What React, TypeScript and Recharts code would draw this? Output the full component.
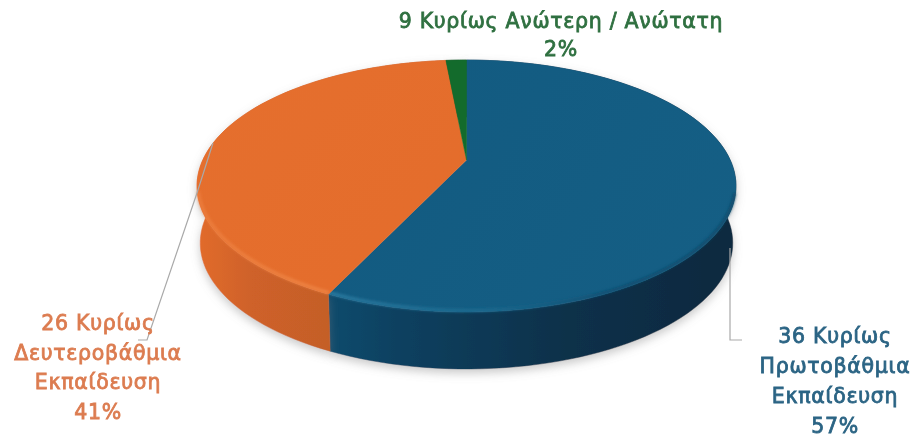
import React from 'react';
import { PieChart, Pie } from 'recharts';

const categories = ['Πρωτοβάθμια', 'Δευτεροβάθμια', 'Ανώτερη / Ανώτατη'];
const shares = [57, 41.5, 1.5];
const labelLines = [
  ['36 Κυρίως', 'Πρωτοβάθμια', 'Εκπαίδευση', '57%'],
  ['26 Κυρίως', 'Δευτεροβάθμια', 'Εκπαίδευση', '41%'],
  ['9 Κυρίως Ανώτερη / Ανώτατη', '2%'],
];
const data = categories.map((name, i) => ({ name, value: shares[i] }));

const topFills = ['url(#topBlue)', 'url(#topOrange)', '#136b2c'];
const sideFills = ['url(#sideBlue)', 'url(#sideOrange)', '#0d4a20'];
const bevelStrokes = ['url(#bevelBlue)', 'url(#bevelOrange)', 'none'];
const labelColors = ['#2b6484', '#dc7c50', '#2f7040'];
const labelAnchors = [
  { x: 835, y: 343, step: 30 },
  { x: 98, y: 330, step: 29.5 },
  { x: 561, y: 28, step: 28 },
];
const leaders = [
  '730,248 730,340 742,340',
  '213,143 197,193 147,340 138,340',
  '',
];

const TILT = 0.2063;
const NEAR = -120.6;
const DEPTH = 57;
const BOTTOM_SCALE = 0.988;

const project = (cx: number, cy: number, r: number, deg: number) => {
  const t = (deg * Math.PI) / 180;
  const u = Math.cos(t);
  const v = Math.sin(t);
  const w = 1 + TILT * v;
  return { x: cx + (r * u) / w, y: cy + (NEAR * v) / w, v };
};

const indexOf = (name: string) => categories.indexOf(name);

const arc = (cx: number, cy: number, r: number, a0: number, a1: number) => {
  const n = Math.max(2, Math.ceil(Math.abs(a1 - a0) / 2));
  const pts = [];
  for (let k = 0; k <= n; k++) pts.push(project(cx, cy, r, a0 + ((a1 - a0) * k) / n));
  return pts;
};

const TopShape = (p: any) => {
  const pts = arc(p.cx, p.cy, p.outerRadius, p.startAngle, p.endAngle);
  const i = indexOf(p.name ?? p.payload?.name);
  const d = `M${p.cx},${p.cy} ` + pts.map((q) => `L${q.x},${q.y}`).join(' ') + ' Z';
  const front = pts.filter((q) => q.v < -0.25);
  return (
    <g>
      <path d={d} fill={topFills[i]} stroke={topFills[i]} strokeWidth={0.5} />
      {front.length > 1 && (
        <polyline
          points={front.map((q) => `${p.cx + (q.x - p.cx) * 0.997},${q.y - 1.5}`).join(' ')}
          fill="none"
          stroke={bevelStrokes[i]}
          strokeWidth={2.5}
          filter="url(#soft)"
        />
      )}
    </g>
  );
};

const SideShape = (p: any) => {
  const pts = arc(p.cx, p.cy, p.outerRadius, p.startAngle, p.endAngle);
  const low = pts
    .map((q) => ({ x: p.cx + (q.x - p.cx) * BOTTOM_SCALE, y: q.y + DEPTH, v: q.v }))
    .reverse();
  const i = indexOf(p.name ?? p.payload?.name);
  const d = 'M' + pts.concat(low).map((q) => `${q.x},${q.y}`).join(' L') + ' Z';
  return <path d={d} fill={sideFills[i]} stroke={sideFills[i]} strokeWidth={0.5} filter="url(#pieShadow)" />;
};

const renderLabel = (p: any) => {
  const i = p.index;
  const a = labelAnchors[i];
  return (
    <g key={i}>
      {leaders[i] && <polyline points={leaders[i]} fill="none" stroke="#a9a9a9" strokeWidth={1.2} />}
      {labelLines[i].map((t, k) => (
        <text
          key={k}
          x={a.x}
          y={a.y + k * a.step}
          textAnchor="middle"
          fontFamily="'DejaVu Sans', sans-serif"
          fontWeight={400}
          fontSize={20.5}
          letterSpacing={0.7}
          fill={labelColors[i]}
          stroke={labelColors[i]}
          strokeWidth={0.8}
        >
          {t}
        </text>
      ))}
    </g>
  );
};

export default function App() {
  return (
    <div style={{ position: 'absolute', left: 0, top: 0, width: 919, height: 439, background: '#fff', filter: 'blur(0.6px)' }}>
      <PieChart width={919} height={439} margin={{ top: 0, right: 0, bottom: 0, left: 0 }}>
        <defs>
          <linearGradient id="topBlue" gradientUnits="userSpaceOnUse" x1="330" y1="60" x2="736" y2="320">
            <stop offset="0" stopColor="#125a80" />
            <stop offset="1" stopColor="#155f85" />
          </linearGradient>
          <linearGradient id="topOrange" gradientUnits="userSpaceOnUse" x1="197" y1="60" x2="466" y2="320">
            <stop offset="0" stopColor="#e56f2e" />
            <stop offset="1" stopColor="#e46c2b" />
          </linearGradient>
          <linearGradient id="sideBlue" gradientUnits="userSpaceOnUse" x1="330" y1="0" x2="736" y2="0">
            <stop offset="0" stopColor="#0f4a6c" />
            <stop offset="0.2" stopColor="#0d3f5e" />
            <stop offset="0.6" stopColor="#0a3049" />
            <stop offset="1" stopColor="#09293f" />
          </linearGradient>
          <linearGradient id="sideOrange" gradientUnits="userSpaceOnUse" x1="197" y1="0" x2="330" y2="0">
            <stop offset="0" stopColor="#e26b2c" />
            <stop offset="0.4" stopColor="#cf6229" />
            <stop offset="1" stopColor="#c45e28" />
          </linearGradient>
          <linearGradient id="bevelBlue" gradientUnits="userSpaceOnUse" x1="330" y1="0" x2="736" y2="0">
            <stop offset="0" stopColor="#2f82a8" />
            <stop offset="0.4" stopColor="#1c6b90" />
            <stop offset="0.7" stopColor="#0f4a6c" />
            <stop offset="1" stopColor="#0e4666" />
          </linearGradient>
          <linearGradient id="bevelOrange" gradientUnits="userSpaceOnUse" x1="197" y1="0" x2="330" y2="0">
            <stop offset="0" stopColor="#ee8040" />
            <stop offset="1" stopColor="#f08a4a" />
          </linearGradient>
          <filter id="pieShadow" x="-10%" y="-10%" width="120%" height="130%">
            <feDropShadow dx="0" dy="4" stdDeviation="5" floodColor="#808080" floodOpacity="0.42" />
          </filter>
          <filter id="soft" x="-5%" y="-20%" width="110%" height="140%">
            <feGaussianBlur stdDeviation="1.4" />
          </filter>
        </defs>
        <Pie
          data={data}
          dataKey="value"
          nameKey="name"
          cx={466.5}
          cy={160}
          outerRadius={263.7}
          startAngle={90}
          endAngle={-270}
          stroke="none"
          shape={SideShape}
          isAnimationActive={false}
          label={false}
        />
        <Pie
          data={data}
          dataKey="value"
          nameKey="name"
          cx={466.5}
          cy={160}
          outerRadius={263.7}
          startAngle={90}
          endAngle={-270}
          stroke="none"
          shape={TopShape}
          isAnimationActive={false}
          label={renderLabel}
          labelLine={false}
        />
      </PieChart>
    </div>
  );
}
